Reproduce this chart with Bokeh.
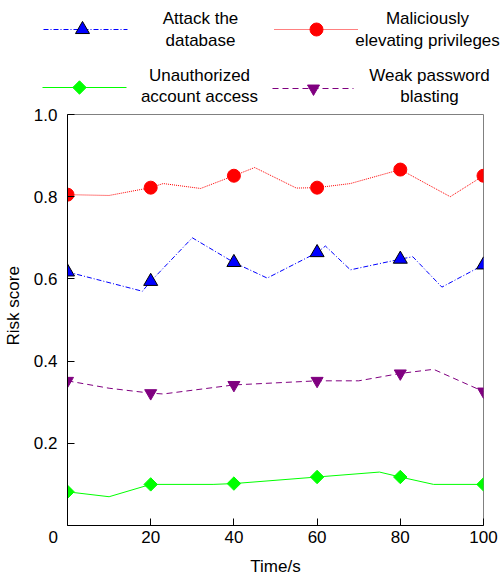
import numpy as np
from bokeh.plotting import figure
from bokeh.layouts import column
from bokeh.models import Range1d, FixedTicker
from bokeh.core.properties import value
from bokeh.embed import file_html
from bokeh.resources import INLINE

FONT = "Liberation Sans"
NB = "\u00a0"

# ---- data ----
names = ["Attack the\ndatabase", "Maliciously\nelevating privileges",
         "Unauthorized\naccount access", "Weak password\nblasting"]

attack_x = [0, 18, 20, 30, 40, 48, 60, 62, 68, 80, 83, 90, 100]
attack_y = [0.617, 0.570, 0.594, 0.700, 0.640, 0.602, 0.664, 0.680, 0.622, 0.648, 0.654, 0.580, 0.634]

priv_x = [0, 10, 20, 23, 32, 40, 45, 55, 60, 68, 80, 92, 100]
priv_y = [0.805, 0.803, 0.822, 0.832, 0.820, 0.851, 0.871, 0.821, 0.822, 0.832, 0.866, 0.800, 0.851]

unauth_x = [0, 10, 20, 35, 40, 60, 75, 80, 88, 100]
unauth_y = [0.082, 0.070, 0.100, 0.100, 0.102, 0.118, 0.130, 0.118, 0.100, 0.100]

weak_x = [0, 10, 20, 23, 40, 60, 70, 80, 88, 100]
weak_y = [0.352, 0.334, 0.322, 0.320, 0.342, 0.352, 0.352, 0.370, 0.380, 0.326]

marker_x = [0, 20, 40, 60, 80, 100]   # times that carry a marker
x_ticks = [0, 20, 40, 60, 80, 100]
x_tick_labels = ["0", "20", "40", "60", "80", "100"]
y_ticks = [0.2, 0.4, 0.6, 0.8, 1.0]
y_tick_labels = ["0.2", "0.4", "0.6", "0.8", "1.0"]

series = [
    dict(x=attack_x, y=attack_y, color="#0000ff", dash="5 2 1 2", marker="triangle",
         mfill="#0000ff", mline="black", size=14, angle=0.0),
    dict(x=priv_x, y=priv_y, color="#ff0000", dash="1 1", marker="circle",
         mfill="#ff0000", mline="#ff0000", size=13, angle=0.0),
    dict(x=unauth_x, y=unauth_y, color="#00ff00", dash="solid", marker="square",
         mfill="#00ff00", mline="#00ff00", size=9.5, angle=np.pi / 4),
    dict(x=weak_x, y=weak_y, color="#800080", dash="6 4", marker="inverted_triangle",
         mfill="#800080", mline="#800080", size=12, angle=0.0),
]

# ---- legend figure ----
W = 504
LH = 105
leg = figure(width=W, height=LH, x_range=Range1d(0, W), y_range=Range1d(LH, 0),
             output_backend="svg", toolbar_location=None, min_border=0,
             frame_align=False)
leg.axis.visible = False
leg.grid.visible = False
leg.outline_line_color = None

# legend slots: (line start, line end, marker x, row y, text centre x, text centre y)
slots = [(43, 127, 82, 29, 200, 29), (274, 357, 316, 29, 427, 29),
         (42, 126, 79, 87, 199, 85.5), (272, 353, 313, 88, 429, 85.5)]
for s, (x0, x1, mxp, yy, tx, ty), nm in zip(series, slots, names):
    leg.line([x0, x1], [yy, yy], line_color=s["color"], line_dash=s["dash"], line_width=1)
    leg.scatter([mxp], [yy], marker=s["marker"], size=s["size"], angle=s["angle"],
                fill_color=s["mfill"], line_color=s["mline"])
    leg.text([tx], [ty], text=[nm], text_align="center", text_baseline="middle",
             text_font=value(FONT), text_font_size="17px", text_line_height=1.15,
             text_color="black")

# ---- main figure ----
p = figure(width=W, height=578 - LH, x_range=Range1d(0, 100), y_range=Range1d(0, 1.0),
           output_backend="svg", toolbar_location=None, frame_align=False,
           min_border_left=66, min_border_right=21, min_border_top=9, min_border_bottom=48)
p.grid.visible = False
p.outline_line_color = "#808080"
p.outline_line_width = 1

for s in series:
    p.line(s["x"], s["y"], line_color=s["color"], line_dash=s["dash"], line_width=1)
    mx = [xx for xx in s["x"] if xx in marker_x]
    my = [yy for xx, yy in zip(s["x"], s["y"]) if xx in marker_x]
    p.scatter(mx, my, marker=s["marker"], size=s["size"], angle=s["angle"],
              fill_color=s["mfill"], line_color=s["mline"])

for ax in (p.xaxis[0], p.yaxis[0]):
    ax.axis_line_color = "black"
    ax.major_tick_line_color = "black"
    ax.major_tick_in = 7
    ax.major_tick_out = 0
    ax.minor_tick_line_color = None
    ax.major_label_text_font = FONT
    ax.major_label_text_font_size = "17px"
    ax.major_label_text_color = "black"
    ax.axis_label_text_font = FONT
    ax.axis_label_text_font_size = "17px"
    ax.axis_label_text_font_style = "normal"
    ax.axis_label_text_color = "black"

p.xaxis.ticker = FixedTicker(ticks=x_ticks)
p.yaxis.ticker = FixedTicker(ticks=y_ticks)
# the origin "0" sits left of the corner, as in the reference
xl = dict(zip(x_ticks, x_tick_labels))
xl[0] = xl[0] + NB * 6
p.xaxis.major_label_overrides = xl
p.yaxis.major_label_overrides = dict(zip(y_ticks, y_tick_labels))
p.xaxis.axis_label = "Time/s"
p.yaxis.axis_label = NB * 6 + "Risk score"
p.xaxis.major_label_standoff = 2
p.yaxis.major_label_standoff = 10
p.xaxis.axis_label_standoff = 7
p.yaxis.axis_label_standoff = 8

layout = column(leg, p, spacing=0)
open("out.html", "w").write(file_html(layout, INLINE))
